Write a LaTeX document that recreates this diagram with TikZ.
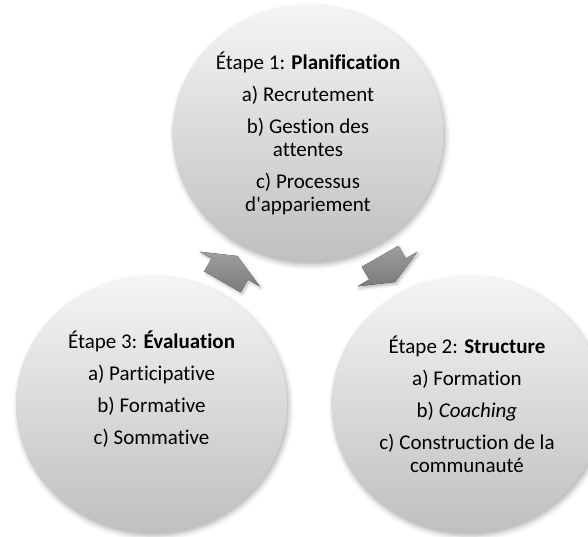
\documentclass[tikz,border=0pt]{standalone}
\usepackage{fontspec}
\setmainfont{Carlito}[Ligatures={TeXOff,NoCommon}]
\usetikzlibrary{shapes.geometric,shadows.blur,calc}

\begin{document}
\begin{tikzpicture}[x=1pt, y=1pt, line join=round,
    stage/.style={ellipse, minimum width=271pt, minimum height=257pt,
      inner sep=0pt, top color=black!4, bottom color=black!25,
      blur shadow={shadow xshift=2pt, shadow yshift=-3pt,
        shadow blur radius=5pt, shadow opacity=30}},
    stagetext/.style={align=center, text=black,
      font=\fontsize{21}{23.3}\selectfont},
    cyclearrow/.style={top color=black!38, bottom color=black!52,
      blur shadow={shadow xshift=1.5pt, shadow yshift=-2pt,
        shadow blur radius=3pt, shadow opacity=30}}]
  % page frame
  \useasboundingbox (0,0) rectangle (588,537);

  % one shaded disc per stage
  \node[stage] (s1) at (308,403.5) {};
  \node[stage] (s2) at (467,132.5) {};
  \node[stage] (s3) at (151.5,132.5) {};

  % block arrows halfway between the discs
  % (shaft from -14.7 to 0, head from 0 to the tip at 15)
  \begin{scope}[shift={($(s3)!0.5!(s1)$)}, rotate=60]
    \fill[cyclearrow] (-14.7,-21) -- (0,-21) -- (0,-34.5) -- (15,0)
      -- (0,34.5) -- (0,21) -- (-14.7,21) -- cycle;
  \end{scope}
  \begin{scope}[shift={($(s1)!0.5!(s2)$)}, rotate=-60]
    \fill[cyclearrow] (-14.7,-21) -- (0,-21) -- (0,-34.5) -- (15,0)
      -- (0,34.5) -- (0,21) -- (-14.7,21) -- cycle;
  \end{scope}

  % stage texts
  \node[stagetext] (t1) at (s1) {Étape 1: \textbf{Planification}\\[8.7pt]
    a) Recrutement\\[8.7pt]
    b) Gestion des\\ attentes\\[8.7pt]
    c) Processus\\ d'appariement};
  \node[stagetext] (t2) at (s2) {Étape 2: \textbf{Structure}\\[8.7pt]
    a) Formation\\[8.7pt]
    b) \textit{Coaching}\\[8.7pt]
    c) Construction de la\\ communauté};
  \node[stagetext] (t3) at ([yshift=15pt]s3) {Étape 3: \textbf{Évaluation}\\[8.7pt]
    a) Participative\\[8.7pt]
    b) Formative\\[8.7pt]
    c) Sommative};
\end{tikzpicture}
\end{document}
